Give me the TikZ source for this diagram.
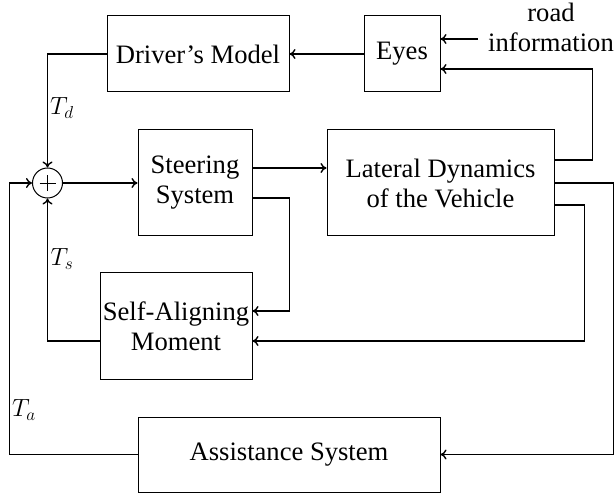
\documentclass[tikz,border=0pt]{standalone}
\usepackage{fontspec}
\setmainfont{Liberation Serif}
\usetikzlibrary{arrows.meta}
\begin{document}
\begin{tikzpicture}[x=1pt,y=-1pt,
  blk/.style={draw,line width=1pt,inner sep=0pt,align=center,
    font=\fontsize{26.6}{30}\selectfont},
  lbl/.style={inner sep=0pt,font=\fontsize{26.6}{30}\selectfont},
  arr/.style={line width=1.4pt,-{To[length=6pt,width=10pt]}},
  ln/.style={line width=1.4pt}]
\useasboundingbox (0,0) rectangle (616,497);
\node[blk,minimum width=182pt,minimum height=76pt] (driver) at (198,54) {Driver's Model};
\node[blk,minimum width=76pt,minimum height=76pt] (eyes) at (402,54) {Eyes};
\node[blk,minimum width=114pt,minimum height=106pt] (steer) at (195,183) {Steering\\System};
\node[blk,minimum width=227pt,minimum height=106pt] (lat) at (440.5,183) {Lateral Dynamics\\of the Vehicle};
\node[blk,minimum width=152pt,minimum height=106pt] (self) at (176,326) {Self-Aligning\\Moment};
\node[blk,minimum width=302pt,minimum height=75pt] (assist) at (289,454.5) {Assistance System};
\node[draw,circle,line width=1pt,minimum size=30pt,inner sep=0pt] (sum) at (47.5,183) {};
\draw[line width=0.8pt] ([xshift=-8pt]sum.center) -- ([xshift=8pt]sum.center)
  ([yshift=-8pt]sum.center) -- ([yshift=8pt]sum.center);
\node[lbl,align=center] (road) at (551,27.5) {road\\information};
\coordinate (rin) at (478,39);
\node[lbl] (td) at (62,108) {$T_d$};
\node[lbl] (ts) at (62,259) {$T_s$};
\node[lbl] (ta) at (24,410) {$T_a$};
\draw[arr] (eyes.west) -- (driver.east);
\draw[arr] (driver.west) -| (sum.north);
\draw[arr] (rin) -- (rin -| eyes.east);
\draw[arr] ([yshift=23pt]lat.east) -- ++(38pt,0) |- ([yshift=-15pt]eyes.east);
\draw[arr] (sum.east) -- (steer.west);
\draw[arr] ([yshift=15pt]steer.east) -- ([yshift=15pt]steer.east -| lat.west);
\draw[arr] ([yshift=-15pt]steer.east) -- ++(37pt,0) |- ([yshift=15pt]self.east);
\draw[arr] ([yshift=-22pt]lat.east) -- ++(30pt,0) |- ([yshift=-15pt]self.east);
\draw[arr] (lat.east) -- ++(59pt,0) |- (assist.east);
\draw[arr] ([yshift=-15pt]self.west) -| (sum.south);
\draw[arr] (assist.west) -- ++(-128pt,0) |- (sum.west);
\end{tikzpicture}
\end{document}
